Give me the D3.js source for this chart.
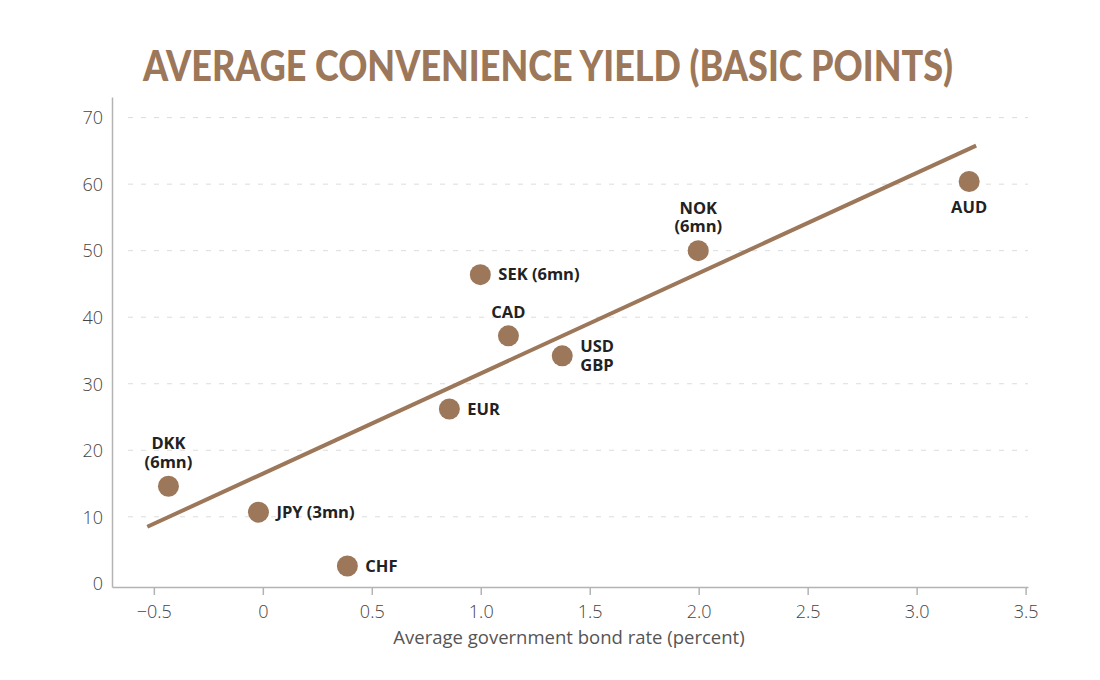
<!DOCTYPE html>
<meta charset="utf-8">
<style>
html, body {
  margin: 0;
  background: #fff;
}

.title {
  font-family: Lato, sans-serif;
  font-weight: 900;
  font-size: 42px;
  fill: #9c7759;
}

.axis path, .axis line {
  stroke: #b3b3b3;
  stroke-width: 1.5px;
}

.axis text {
  font-family: "Open Sans", sans-serif;
  font-weight: 300;
  font-size: 18px;
  fill: #444;
}

.grid line {
  stroke: #dcdcdc;
  stroke-width: 1px;
  stroke-dasharray: 5 8;
}

.dot {
  fill: #9c7759;
}

.fit {
  fill: none;
  stroke: #9c7759;
  stroke-width: 4px;
}

.label {
  font-family: "Open Sans", sans-serif;
  font-weight: 700;
  font-size: 16.5px;
  fill: #222;
}

.axis-title {
  font-family: "Open Sans", sans-serif;
  font-weight: 400;
  font-size: 18.5px;
  fill: #555;
}
</style>

<svg></svg>

<script src="https://d3js.org/d3.v7.min.js"></script>
<script>

// data
var currencies = [['DKK', '(6mn)'], ['JPY (3mn)'], ['CHF'], ['EUR'], ['SEK (6mn)'],
                  ['CAD'], ['USD', 'GBP'], ['NOK', '(6mn)'], ['AUD']];
var bondRate  = [-0.433, -0.02, 0.388, 0.856, 0.998, 1.127, 1.374, 1.998, 3.241];
var convYield = [14.6, 10.7, 2.6, 26.2, 46.4, 37.2, 34.2, 50.0, 60.4];
var labelSide = ['above', 'right', 'right', 'right', 'right', 'above', 'right', 'above', 'below'];

// regression line end points
var fitX = [-0.53, 3.273];
var fitY = [8.5, 65.8];

var xTicks = [-0.5, 0, 0.5, 1.0, 1.5, 2.0, 2.5, 3.0, 3.5];
var yTicks = [0, 10, 20, 30, 40, 50, 60, 70];

var width = 1100, height = 680;

var svg = d3.select('svg')
  .attr('width', width)
  .attr('height', height);

var x = d3.scaleLinear().domain([-0.692, 3.511]).range([112, 1028]);
var y = d3.scaleLinear().domain([-0.55, 73.1]).range([587, 97]);

svg.append('text')
  .attr('class', 'title')
  .attr('x', 143)
  .attr('y', 81)
  .attr('textLength', 810)
  .attr('lengthAdjust', 'spacingAndGlyphs')
  .text('AVERAGE CONVENIENCE YIELD (BASIC POINTS)');

// dashed grid
svg.append('g')
  .attr('class', 'grid')
  .selectAll('line').data(yTicks.filter(function (d) { return d > 0; }))
  .enter().append('line')
  .attr('x1', 128)
  .attr('x2', 1028)
  .attr('y1', function (d) { return y(d); })
  .attr('y2', function (d) { return y(d); });

var xAxis = svg.append('g')
  .attr('class', 'axis')
  .attr('transform', 'translate(0,' + y.range()[0] + ')')
  .call(d3.axisBottom(x).tickValues(xTicks).tickSize(8).tickSizeOuter(0)
    .tickFormat(function (d) { return d === 0 ? '0' : d3.format('.1f')(d).replace('-', '\u2013'); }));
xAxis.selectAll('text').attr('dy', '1.1em');

var yAxis = svg.append('g')
  .attr('class', 'axis')
  .attr('transform', 'translate(' + x.range()[0] + ',0)')
  .call(d3.axisLeft(y).tickValues(yTicks).tickSize(0).tickSizeOuter(0).tickPadding(9));
yAxis.selectAll('text').attr('dy', '0.35em');

svg.append('text')
  .attr('class', 'axis-title')
  .attr('x', 569)
  .attr('y', 644)
  .attr('text-anchor', 'middle')
  .text('Average government bond rate (percent)');

svg.append('path')
  .attr('class', 'fit')
  .datum(d3.zip(fitX, fitY))
  .attr('d', d3.line()
    .x(function (d) { return x(d[0]); })
    .y(function (d) { return y(d[1]); }));

var points = d3.range(currencies.length).map(function (i) {
  return { name: currencies[i], x: bondRate[i], y: convYield[i], side: labelSide[i] };
});

svg.append('g')
  .selectAll('circle').data(points)
  .enter().append('circle')
  .attr('class', 'dot')
  .attr('r', 10.5)
  .attr('cx', function (d) { return x(d.x); })
  .attr('cy', function (d) { return y(d.y); });

var lineH = 18.5;
var labels = svg.append('g')
  .selectAll('text').data(points)
  .enter().append('text')
  .attr('class', 'label')
  .attr('text-anchor', function (d) { return d.side === 'right' ? 'start' : 'middle'; })
  .attr('x', function (d) { return d.side === 'right' ? x(d.x) + 18 : x(d.x); })
  .attr('y', function (d) {
    var cy = y(d.y), n = d.name.length;
    if (d.side === 'right') return cy - (n - 1) * lineH / 2;
    if (d.side === 'above') return cy - 24 - (n - 1) * lineH;
    return cy + 26;
  });

labels.selectAll('tspan')
  .data(function (d) { return d.name.map(function (t, j) { return { t: t, j: j, d: d }; }); })
  .enter().append('tspan')
  .attr('x', function (e) { return e.d.side === 'right' ? x(e.d.x) + 18 : x(e.d.x); })
  .attr('dy', function (e) { return e.j === 0 ? '0.35em' : lineH; })
  .text(function (e) { return e.t; });
</script>
